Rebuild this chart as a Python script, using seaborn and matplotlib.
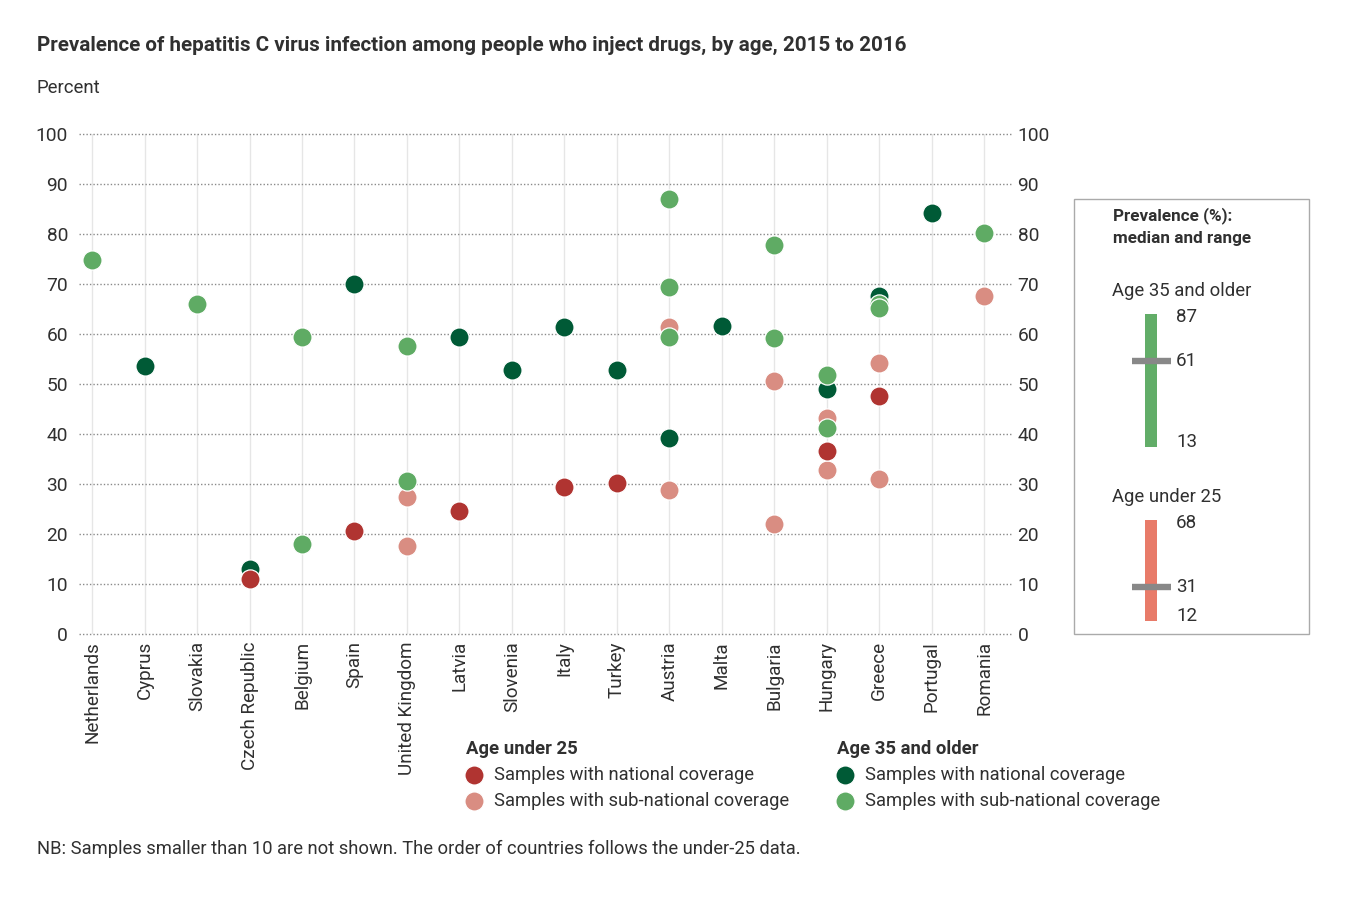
import matplotlib
matplotlib.use("Agg")
import matplotlib.pyplot as plt
import matplotlib.transforms as mtransforms
import seaborn as sns
import pandas as pd
from matplotlib.patches import Rectangle

# ---------------- data ----------------
countries = ["Netherlands", "Cyprus", "Slovakia", "Czech Republic", "Belgium", "Spain",
             "United Kingdom", "Latvia", "Slovenia", "Italy", "Turkey", "Austria", "Malta",
             "Bulgaria", "Hungary", "Greece", "Portugal", "Romania"]

u25_nat_country = ["Czech Republic", "Spain", "Latvia", "Italy", "Turkey", "Hungary", "Greece"]
u25_nat_value = [11.1, 20.6, 24.7, 29.5, 30.2, 36.7, 47.7]

u25_sub_country = ["United Kingdom", "United Kingdom", "Austria", "Austria", "Bulgaria", "Bulgaria",
                   "Hungary", "Hungary", "Greece", "Greece", "Romania"]
u25_sub_value = [27.4, 17.6, 61.5, 28.9, 50.7, 22.1, 43.2, 32.9, 54.3, 31.1, 67.7]

o35_nat_country = ["Cyprus", "Czech Republic", "Spain", "Latvia", "Slovenia", "Italy", "Turkey",
                   "Austria", "Malta", "Hungary", "Greece", "Portugal"]
o35_nat_value = [53.7, 13.1, 70.1, 59.4, 52.9, 61.4, 52.8, 39.3, 61.7, 49.1, 67.7, 84.3]

o35_sub_country = ["Netherlands", "Slovakia", "Belgium", "Belgium", "United Kingdom", "United Kingdom",
                   "Austria", "Austria", "Austria", "Bulgaria", "Bulgaria", "Hungary", "Hungary",
                   "Greece", "Greece", "Romania"]
o35_sub_value = [74.9, 66.1, 59.5, 18.1, 57.6, 30.6, 87.1, 69.5, 59.4, 77.8, 59.3, 51.9, 41.2,
                 66.0, 65.3, 80.2]

range_groups = ["Age 35 and older", "Age under 25"]
range_min = [13, 12]
range_median = [61, 31]
range_max = [87, 68]

y_ticks = [0, 10, 20, 30, 40, 50, 60, 70, 80, 90, 100]

title = "Prevalence of hepatitis C virus infection among people who inject drugs, by age, 2015 to 2016"
footnote = "NB: Samples smaller than 10 are not shown. The order of countries follows the under-25 data."

# ---------------- style ----------------
C_RED = "#b03431"
C_PINK = "#d98d82"
C_DKGREEN = "#005a36"
C_GREEN = "#5fab64"
C_BAR_GREEN = "#62ad68"
C_BAR_ORANGE = "#e87b69"
C_GREY = "#888888"
TXT = "#303030"

sns.set_theme(style="white")
plt.rcParams["font.family"] = ["Roboto", "DejaVu Sans"]
plt.rcParams["text.color"] = TXT

W, H = 1366, 899
fig = plt.figure(figsize=(W / 100, H / 100), dpi=100)

def px_axes(x0, y0, x1, y1, **kw):
    return fig.add_axes([x0 / W, 1 - y1 / H, (x1 - x0) / W, (y1 - y0) / H], **kw)

ax = px_axes(79, 134.3, 1012, 634.3)

MS = 13.8
groups = [
    (u25_sub_country, u25_sub_value, C_PINK, 3),
    (o35_nat_country, o35_nat_value, C_DKGREEN, 3.5),
    (o35_sub_country, o35_sub_value, C_GREEN, 4),
    (u25_nat_country, u25_nat_value, C_RED, 5),
]
for cs, vs, col, z in groups:
    df = pd.DataFrame({"country": cs, "value": vs})
    sns.stripplot(data=df, x="country", y="value", order=countries, color=col,
                  jitter=False, size=MS, linewidth=0.9, edgecolor="white",
                  ax=ax, zorder=z)

ax.set_xlim(-0.25, 17.53)
ax.set_ylim(0, 100)
ax.set_yticks(y_ticks)
ax.set_xlabel("")
ax.set_ylabel("")
for s in ax.spines.values():
    s.set_visible(False)
ax.grid(False)
for i in range(len(countries)):
    ax.axvline(i, color="#e6e6e6", lw=1.0, zorder=0)
for v in y_ticks:
    ax.axhline(v, color="#8a8a8a", lw=1.0, ls=(0, (1, 1.5)), zorder=1, clip_on=False)

ax.tick_params(axis="x", length=0, pad=5, labelsize=13.6, labelcolor=TXT, rotation=90)
for lab in ax.get_xticklabels():
    lab.set_va("top")
    lab.set_ha("center")
ax.tick_params(axis="y", length=0, pad=8, labelsize=13.8, labelcolor=TXT)

ax2 = ax.twinx()
ax2.set_ylim(0, 100)
ax2.set_yticks(y_ticks)
ax2.tick_params(axis="y", length=0, pad=4, labelsize=13.8, labelcolor=TXT)
for s in ax2.spines.values():
    s.set_visible(False)
ax2.grid(False)

# ---------------- overlay in pixel coords ----------------
ov = fig.add_axes([0, 0, 1, 1], zorder=-1)
ov.set_xlim(0, W)
ov.set_ylim(H, 0)
ov.axis("off")
ov.patch.set_alpha(0)

ov.text(37, 45, title, fontsize=14.9, fontweight="bold", va="center", ha="left", color=TXT)
ov.text(37, 88, "Percent", fontsize=13.4, va="center", ha="left", color=TXT)
ov.text(37, 849, footnote, fontsize=13.2, va="center", ha="left", color=TXT)

# bottom legend
leg_cols = [
    (466, "Age under 25", [(C_RED, "Samples with national coverage"),
                           (C_PINK, "Samples with sub-national coverage")]),
    (837, "Age 35 and older", [(C_DKGREEN, "Samples with national coverage"),
                               (C_GREEN, "Samples with sub-national coverage")]),
]
for x0, head, items in leg_cols:
    ov.text(x0, 749, head, fontsize=13.3, fontweight="bold", va="center", ha="left", color=TXT)
    for k, (col, lab) in enumerate(items):
        yy = 775 + 26 * k
        ov.plot([x0 + 8], [yy], marker="o", ms=MS, mfc=col, mec="white", mew=0.9, ls="none")
        ov.text(x0 + 28, yy, lab, fontsize=13.2, va="center", ha="left", color=TXT)

# range legend box
ov.add_patch(Rectangle((1074, 199), 235, 435, fill=False, ec="#aaaaaa", lw=1))
ov.text(1113, 216, "Prevalence (%):", fontsize=12.3, fontweight="bold", va="center", ha="left", color=TXT)
ov.text(1113, 239, "median and range", fontsize=12.3, fontweight="bold", va="center", ha="left", color=TXT)
ov.text(1112, 291, range_groups[0], fontsize=13.3, va="center", ha="left", color=TXT)
ov.text(1112, 497, range_groups[1], fontsize=13.3, va="center", ha="left", color=TXT)

bar_specs = [(290.4, 470.4, C_BAR_GREEN), (462.5, 642.5, C_BAR_ORANGE)]
for i, (ytop, ybot, col) in enumerate(bar_specs):
    bax = px_axes(1132, ytop, 1171, ybot)
    bax.set_xlim(0, 1)
    bax.set_ylim(0, 100)
    bax.axis("off")
    bax.patch.set_alpha(0)
    bax.bar([0.487], [range_max[i] - range_min[i]], bottom=[range_min[i]], width=0.31,
            color=col, edgecolor="none")
    bax.hlines(range_median[i], 0, 1, color=C_GREY, lw=4.6)
    for v, dy in ((range_min[i], 5), (range_median[i], 0), (range_max[i], -3)):
        tr = bax.get_yaxis_transform() + mtransforms.ScaledTranslation(0, dy / 100, fig.dpi_scale_trans)
        bax.text(1.13, v, str(v), fontsize=13.5, va="center", ha="left", color=TXT, transform=tr)

fig.savefig("out.png", dpi=100)
